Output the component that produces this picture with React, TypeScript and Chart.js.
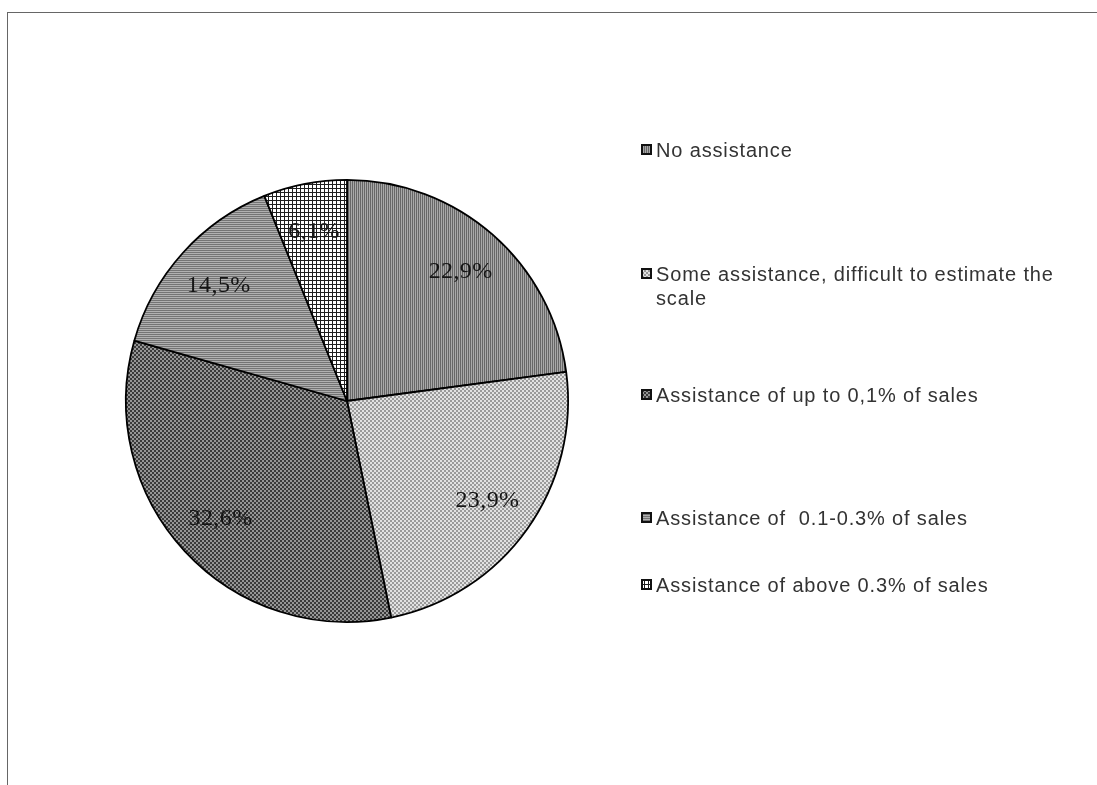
import React, { useEffect, useRef } from 'react';
import { Chart, registerables } from 'chart.js';

Chart.register(...registerables);

const categories = [
  'No assistance',
  'Some assistance, difficult to estimate the scale',
  'Assistance of up to 0,1% of sales',
  'Assistance of  0.1-0.3% of sales',
  'Assistance of above 0.3% of sales',
];
const shares = [22.9, 23.9, 32.6, 14.5, 6.1];
const valueLabels = ['22,9%', '23,9%', '32,6%', '14,5%', '6,1%'];
const patternKinds = ['vstripe', 'lightcheck', 'darkcheck', 'hstripe', 'grid'];

function makePattern(kind: string): CanvasPattern | string {
  const c = document.createElement('canvas');
  const ctx = c.getContext('2d');
  if (!ctx) return '#888';
  const px = (x: number, y: number, col: string) => {
    ctx.fillStyle = col;
    ctx.fillRect(x, y, 1, 1);
  };
  if (kind === 'vstripe') {
    c.width = 2; c.height = 1;
    px(0, 0, '#666666'); px(1, 0, '#a8a8a8');
  } else if (kind === 'hstripe') {
    c.width = 1; c.height = 2;
    px(0, 0, '#747474'); px(0, 1, '#b0b0b0');
  } else if (kind === 'lightcheck' || kind === 'darkcheck') {
    c.width = 4; c.height = 4;
    const a = kind === 'lightcheck' ? '#e2e2e2' : '#3a3a3a';
    const b = kind === 'lightcheck' ? '#9a9a9a' : '#969696';
    for (let y = 0; y < 4; y++) for (let x = 0; x < 4; x++) {
      px(x, y, ((x >> 1) + (y >> 1)) % 2 === 0 ? a : b);
    }
  } else {
    c.width = 4; c.height = 4;
    ctx.fillStyle = '#ffffff'; ctx.fillRect(0, 0, 4, 4);
    ctx.fillStyle = '#1e1e1e'; ctx.fillRect(0, 0, 4, 1); ctx.fillRect(0, 0, 1, 4);
  }
  return ctx.createPattern(c, 'repeat') || '#888';
}

const legendBaselines = [157, 281, 402, 525, 592];

export default function App() {
  const ref = useRef<HTMLCanvasElement | null>(null);
  useEffect(() => {
    if (!ref.current) return;
    const patterns = patternKinds.map(makePattern);

    const sliceLabels = {
      id: 'sliceLabels',
      afterDatasetsDraw(chart: any) {
        const ctx = chart.ctx;
        const meta = chart.getDatasetMeta(0);
        ctx.save();
        ctx.font = '24px "Liberation Serif", "Times New Roman", serif';
        (ctx as any).letterSpacing = '0.4px';
        ctx.fillStyle = '#151515';
        ctx.textAlign = 'center';
        ctx.textBaseline = 'middle';
        meta.data.forEach((arc: any, i: number) => {
          const p = arc.getProps(['x', 'y', 'startAngle', 'endAngle', 'outerRadius'], true);
          const mid = (p.startAngle + p.endAngle) / 2;
          const r = p.outerRadius * 0.78;
          ctx.fillText(valueLabels[i], p.x + Math.cos(mid) * r, p.y + Math.sin(mid) * r);
        });
        ctx.restore();
      },
    };

    const sideLegend = {
      id: 'sideLegend',
      afterDraw(chart: any) {
        const ctx = chart.ctx;
        ctx.save();
        ctx.font = '20px "Liberation Sans", Arial, sans-serif';
        (ctx as any).letterSpacing = '0.85px';
        ctx.textBaseline = 'alphabetic';
        ctx.textAlign = 'left';
        const boxX = 641;
        const textX = 656;
        const maxW = 405;
        categories.forEach((label, i) => {
          const base = legendBaselines[i];
          ctx.fillStyle = '#111';
          ctx.fillRect(boxX, base - 13, 11, 11);
          ctx.fillStyle = patterns[i] as any;
          ctx.fillRect(boxX + 2, base - 11, 7, 7);
          const words = label.split(' ');
          const lines: string[] = [];
          let cur = '';
          words.forEach((w) => {
            const test = cur === '' ? w : cur + ' ' + w;
            if (ctx.measureText(test).width > maxW && cur !== '') {
              lines.push(cur);
              cur = w;
            } else {
              cur = test;
            }
          });
          lines.push(cur);
          ctx.fillStyle = '#333333';
          lines.forEach((ln, j) => ctx.fillText(ln, textX, base + j * 24));
        });
        ctx.restore();
      },
    };

    const chart = new Chart(ref.current, {
      type: 'pie',
      data: {
        labels: categories,
        datasets: [
          {
            data: shares,
            backgroundColor: patterns as any,
            borderColor: '#000',
            borderWidth: 1.8,
          },
        ],
      },
      options: {
        animation: false,
        responsive: true,
        maintainAspectRatio: false,
        layout: { padding: { left: 125, right: 528, top: 179, bottom: 162 } },
        plugins: {
          legend: { display: false },
          tooltip: { enabled: false },
          title: { display: false },
        },
      },
      plugins: [sliceLabels, sideLegend],
    });
    return () => chart.destroy();
  }, []);

  return (
    <div style={{ position: 'fixed', left: 0, top: 0, width: 1097, height: 785, background: '#fff' }}>
      <div
        style={{
          position: 'absolute',
          left: 7,
          top: 12,
          right: 0,
          bottom: 0,
          borderTop: '1px solid #666',
          borderLeft: '1px solid #666',
        }}
      />
      <canvas ref={ref} style={{ position: 'absolute', left: 0, top: 0, width: 1097, height: 785 }} />
    </div>
  );
}
